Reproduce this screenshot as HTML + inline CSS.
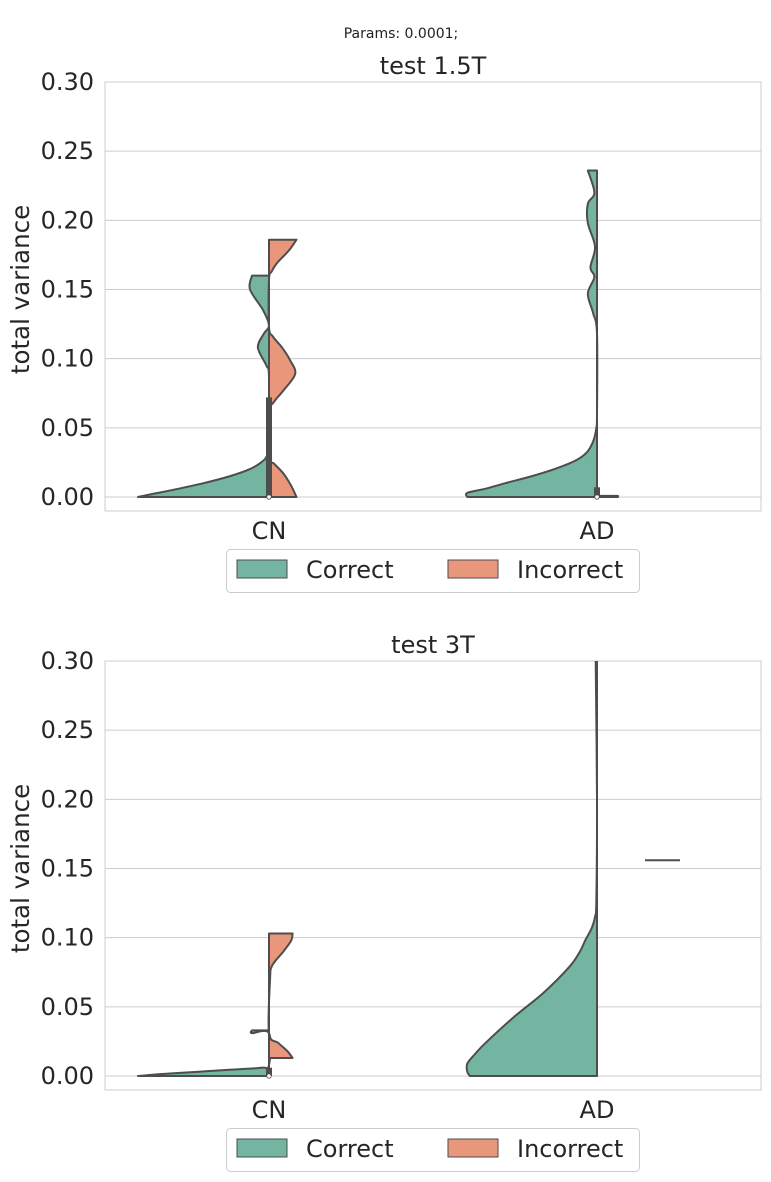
<!DOCTYPE html>
<html><head><meta charset="utf-8"><style>
html,body{margin:0;padding:0;background:#fff;}
svg{display:block;font-family:"DejaVu Sans","Liberation Sans",sans-serif;}
</style></head><body>
<svg id="c" width="771" height="1182" viewBox="0 0 771 1182">
<text x="401" y="38" font-size="14" text-anchor="middle" fill="#222">Params: 0.0001;</text>
</svg>
<script>
const yTicks=[0,0.05,0.10,0.15,0.20,0.25,0.30];
const yTickLabels=["0.00","0.05","0.10","0.15","0.20","0.25","0.30"];
const categories=["CN","AD"];
const panelTitles=["test 1.5T","test 3T"];
// density profiles: [value, relative half-width (0..1)]
const top_CN_correct=[[0,1],[0.002,0.9],[0.005,0.74],[0.01,0.5],[0.015,0.3],[0.02,0.15],[0.025,0.06],[0.03,0.015],[0.04,0],[0.087,0],[0.095,0.02],[0.108,0.085],[0.118,0.04],[0.124,0],[0.135,0.045],[0.15,0.145],[0.16,0.13]];
const top_CN_incorrect=[[0,0.21],[0.008,0.17],[0.017,0.11],[0.024,0.04],[0.029,0],[0.061,0],[0.069,0.04],[0.077,0.11],[0.089,0.2],[0.099,0.16],[0.108,0.1],[0.116,0.03],[0.123,0],[0.157,0],[0.163,0.02],[0.169,0.06],[0.178,0.15],[0.186,0.21]];
const top_AD_correct=[[0,0.99],[0.003,0.99],[0.006,0.85],[0.010,0.7],[0.015,0.5],[0.020,0.33],[0.026,0.17],[0.032,0.08],[0.04,0.03],[0.05,0.005],[0.06,0],[0.118,0],[0.133,0.03],[0.147,0.07],[0.159,0.02],[0.166,0.05],[0.181,0.015],[0.198,0.07],[0.212,0.07],[0.220,0.02],[0.236,0.07]];
const top_AD_incorrect=[[0,0.16],[0.0008,0.16]];
const bot_CN_correct=[[0,1],[0.0015,0.8],[0.003,0.55],[0.0045,0.3],[0.006,0.06],[0.008,0],[0.031,0],[0.031,0.13],[0.033,0.13]];
const bot_CN_incorrect=[[0.013,0.18],[0.018,0.14],[0.024,0.07],[0.031,0],[0.07,0.008],[0.08,0.025],[0.09,0.11],[0.098,0.17],[0.103,0.18]];
const bot_AD_correct=[[0,0.97],[0.003,0.99],[0.009,0.99],[0.016,0.93],[0.024,0.85],[0.043,0.63],[0.060,0.41],[0.079,0.21],[0.09,0.13],[0.098,0.09],[0.107,0.04],[0.115,0.015],[0.127,0.005],[0.2,0],[0.3,0.01]];
const bot_AD_incorrect_value=[0.156];
const boxes=[[[0,0.072],[0,0.007]],[[0,0.006],null]];

const svg=document.getElementById('c');
const NS='http://www.w3.org/2000/svg';
function mk(tag,attrs,parent){const e=document.createElementNS(NS,tag);for(const k in attrs)e.setAttribute(k,attrs[k]);(parent||svg).appendChild(e);return e;}
function smooth(pts){
  let d=`M${pts[0][0]},${pts[0][1]}`;
  for(let i=0;i<pts.length-1;i++){
    const p0=pts[Math.max(0,i-1)],p1=pts[i],p2=pts[i+1],p3=pts[Math.min(pts.length-1,i+2)];
    const c1=[p1[0]+(p2[0]-p0[0])/6,p1[1]+(p2[1]-p0[1])/6];
    const c2=[p2[0]-(p3[0]-p1[0])/6,p2[1]-(p3[1]-p1[1])/6];
    d+=` C${c1[0]},${c1[1]} ${c2[0]},${c2[1]} ${p2[0]},${p2[1]}`;
  }
  return d;
}
const panels=[{top:82,bottom:511,y0:497,y30:82,legendY:549},{top:661,bottom:1090,y0:1076,y30:661,legendY:1128}];
const xLeft=105,xRight=761,centers=[269,597],maxW=131;
const GREEN='#73b5a0',ORANGE='#e9977a',EDGE='#4d4d4d';
const data=[[[top_CN_correct,top_CN_incorrect],[top_AD_correct,top_AD_incorrect]],[[bot_CN_correct,bot_CN_incorrect],[bot_AD_correct,null]]];
panels.forEach((p,pi)=>{
  const ys=v=>p.y0-(v/0.3)*(p.y0-p.y30);
  const g=mk('g',{});
  
  
  mk('rect',{x:xLeft,y:p.top,width:xRight-xLeft,height:p.bottom-p.top,fill:'none',stroke:'#cccccc','stroke-width':1},g);
  const clip=mk('clipPath',{id:'clip'+pi},g);
  mk('rect',{x:xLeft,y:p.top,width:xRight-xLeft,height:p.bottom-p.top},clip);
  yTicks.forEach((t,i)=>{
    const y=ys(t);
    const l=mk('line',{x1:xLeft,x2:xRight,y1:y,y2:y,stroke:'#cccccc','stroke-width':1},g);
    
    
    const tx=mk('text',{x:94,y:y+8,'font-size':24,'text-anchor':'end',fill:'#262626'},g);
    tx.textContent=yTickLabels[i];
    
    
  });
  const yl=mk('text',{x:0,y:0,'font-size':24.5,'text-anchor':'middle',fill:'#262626',transform:`translate(29,${(p.top+p.bottom)/2-7}) rotate(-90)`},g);
  yl.textContent='total variance';
  
  
  const tt=mk('text',{x:433,y:p.top-8,'font-size':24,'text-anchor':'middle',fill:'#262626'},g);
  tt.textContent=panelTitles[pi];
  
  
  categories.forEach((c,ci)=>{
    const cx=centers[ci];
    const xt=mk('text',{x:cx,y:p.bottom+28,'font-size':24,'text-anchor':'middle',fill:'#262626'},g);
    xt.textContent=c;
    
    
    const vg=mk('g',{'clip-path':`url(#clip${pi})`},g);
    [0,1].forEach(side=>{
      const prof=data[pi][ci][side];
      if(!prof)return;
      const dir=side===0?-1:1;
      const pts=prof.map(([v,w])=>[cx+dir*w*maxW,ys(v)]);
      let d=`M${cx},${ys(prof[0][0])} L`+smooth(pts).slice(1);
      d+=` L${cx},${ys(prof[prof.length-1][0])} Z`;
      const path=mk('path',{d,fill:side===0?GREEN:ORANGE,stroke:EDGE,'stroke-width':2,'stroke-linejoin':'round'},vg);
      
      
    });
    const b=boxes[pi][ci];
    if(b){
      const bl=mk('line',{x1:cx,x2:cx,y1:ys(b[0]),y2:ys(b[1]),stroke:EDGE,'stroke-width':6},g);
      
      
      const md=mk('circle',{cx:cx,cy:ys(b[0]),r:2.2,fill:'#fff',stroke:EDGE,'stroke-width':0.8},g);
      
      
    }
  });
  if(pi===1){
    bot_AD_incorrect_value.forEach(v=>{
      const l=mk('line',{x1:645,x2:680,y1:ys(v),y2:ys(v),stroke:EDGE,'stroke-width':2},g);
      
      
    });
  }
  const lg=mk('g',{},g);
  
  
  mk('rect',{x:226.5,y:p.legendY+0.5,width:413,height:43,rx:4,fill:'#fff',stroke:'#cccccc'},lg);
  [['Correct',GREEN,237],['Incorrect',ORANGE,448]].forEach(([lab,col,x])=>{
    const e=mk('g',{},lg);
    
    
    mk('rect',{x:x,y:p.legendY+11,width:50,height:18,fill:col,stroke:EDGE,'stroke-width':1},e);
    const t=mk('text',{x:x+69,y:p.legendY+29,'font-size':24,fill:'#262626'},e);
    t.textContent=lab;
  });
});
</script>
</body></html>
